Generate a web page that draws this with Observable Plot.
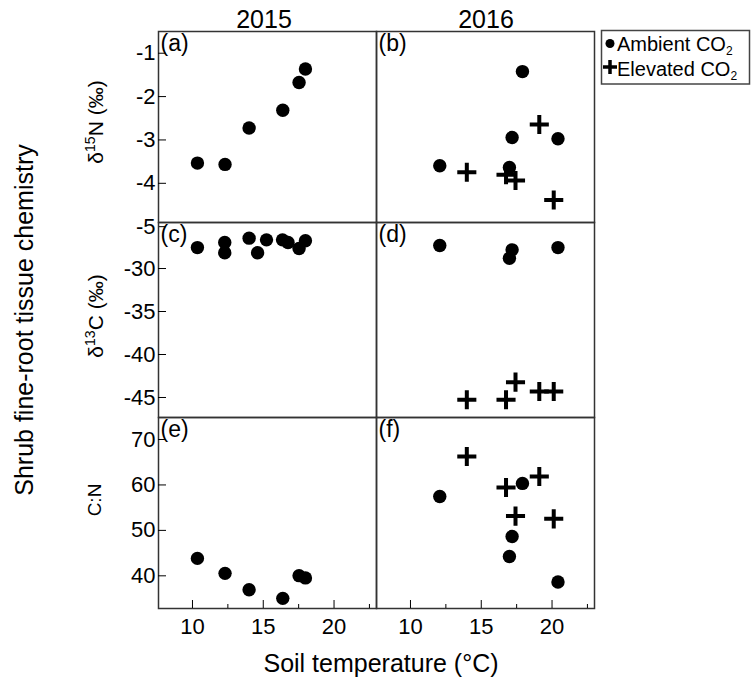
<!DOCTYPE html>
<html><head><meta charset="utf-8">
<script src="https://cdn.jsdelivr.net/npm/d3@7"></script>
<script src="https://cdn.jsdelivr.net/npm/@observablehq/plot@0.6"></script>
<style>
body{margin:0;background:#fff;}
#wrap{position:relative;width:751px;height:680px;overflow:hidden;background:#fff;font-family:"Liberation Sans",Arial,sans-serif;}
#wrap svg{position:absolute;left:0;}
</style></head><body><div id="wrap"></div>
<script>
// ---- data ----
const years = [2015, 2016];
const panelLabels = ["(a)", "(b)", "(c)", "(d)", "(e)", "(f)"];
const xTicks = [10, 15, 20];
const xMinorTicks = [12.5, 17.5, 22.5];
const d15NTicks = [-5, -4, -3, -2, -1];
const d13CTicks = [-45, -40, -35, -30];
const cnTicks = [40, 50, 60, 70];

// 2015 (ambient only)
const temp2015 = [10.35, 12.3, 14.0, 16.38, 17.53, 17.98];
const d15N2015 = [-3.58, -3.61, -2.77, -2.36, -1.72, -1.41];
const cn2015 = [43.4, 40.1, 36.5, 34.6, 39.6, 39.1];
const temp2015C = [10.35, 12.28, 12.28, 14.0, 14.6, 15.23, 16.36, 16.75, 17.53, 17.98];
const d13C2015 = [-27.8, -27.2, -28.4, -26.7, -28.4, -26.9, -26.9, -27.2, -27.9, -27.0];

// 2016 ambient CO2
const tempAmb2016 = [12.07, 16.99, 17.18, 17.91, 20.42];
const d15NAmb2016 = [-3.64, -3.68, -2.99, -1.47, -3.02];
const d13CAmb2016 = [-27.56, -29.03, -28.06, null, -27.8];
const cnAmb2016 = [57.0, 43.8, 48.2, 59.9, 38.2];

// 2016 elevated CO2
const tempElev2016 = [13.98, 16.75, 17.42, 19.1, 20.12];
const d15NElev2016 = [-3.79, -3.85, -3.98, -2.69, -4.43];
const d13CElev2016 = [-45.5, -45.5, -43.45, -44.53, -44.53];
const cnElev2016 = [65.8, 59.0, 52.7, 61.4, 52.1];

// ---- build records ----
function recs(year, co2, temps, vals) {
  return temps.map((t, i) => ({year, co2, t, v: vals[i]})).filter(d => d.v != null);
}
const rows = [
  {top: 30, plotH: 191, mb: 1, domain: [-4.95, -0.545], ticks: d15NTicks,
   data: [...recs(2015, "Ambient", temp2015, d15N2015), ...recs(2016, "Ambient", tempAmb2016, d15NAmb2016), ...recs(2016, "Elevated", tempElev2016, d15NElev2016)],
   labels: [panelLabels[0], panelLabels[1]]},
  {top: 221, plotH: 195, mb: 1, domain: [-47.56, -24.88], ticks: d13CTicks,
   data: [...recs(2015, "Ambient", temp2015C, d13C2015), ...recs(2016, "Ambient", tempAmb2016, d13CAmb2016), ...recs(2016, "Elevated", tempElev2016, d13CElev2016)],
   labels: [panelLabels[2], panelLabels[3]]},
  {top: 416, plotH: 191, mb: 72, domain: [32.37, 74.4], ticks: cnTicks, bottom: true,
   data: [...recs(2015, "Ambient", temp2015, cn2015), ...recs(2016, "Ambient", tempAmb2016, cnAmb2016), ...recs(2016, "Elevated", tempElev2016, cnElev2016)],
   labels: [panelLabels[4], panelLabels[5]]}
];

const wrap = document.getElementById("wrap");
for (const r of rows) {
  const labelData = years.map((y, i) => ({year: y, lab: r.labels[i]}));
  const marks = [
    Plot.frame({stroke: "#333", strokeWidth: 1.5}),
    Plot.axisY({ticks: r.ticks, tickSize: -8, tickPadding: 11, tickFormat: d => String(d), label: null, fontSize: 22, dy: 2}),
    Plot.dot(r.data.filter(d => d.co2 === "Ambient"), {x: "t", y: "v", fx: "year", r: 6.7, fill: "black", stroke: "none"}),
    Plot.dot(r.data.filter(d => d.co2 === "Elevated"), {x: "t", y: "v", fx: "year", r: 6.2, symbol: "plus", stroke: "black", strokeWidth: 4}),
    Plot.text(labelData, {fx: "year", text: "lab", frameAnchor: "top-left", lineAnchor: "top", dx: 2, dy: 3, fontSize: 23})
  ];
  if (r.bottom) {
    marks.push(Plot.axisX({ticks: xTicks, tickSize: -8, tickPadding: 18, label: null, fontSize: 22}));
    marks.push(Plot.axisX({ticks: xMinorTicks, tickSize: -4, tickFormat: () => "", label: null}));
  }
  const svg = Plot.plot({
    width: 751,
    height: 1 + r.plotH + r.mb,
    marginLeft: 158, marginRight: 157, marginTop: 1, marginBottom: r.mb,
    x: {domain: [7.6, 23.0], ...(r.bottom ? {} : {axis: null})},
    y: {domain: r.domain},
    fx: {domain: years, padding: 0, axis: null},
    style: {background: "transparent", overflow: "visible", fontFamily: "Liberation Sans, Arial, sans-serif", color: "black"},
    marks
  });
  svg.style.top = r.top + "px";
  wrap.appendChild(svg);
}

// ---- annotations ----
const ns = "http://www.w3.org/2000/svg";
const ov = document.createElementNS(ns, "svg");
ov.setAttribute("width", 751); ov.setAttribute("height", 680);
ov.style.top = "0px"; ov.style.pointerEvents = "none";
ov.innerHTML = `
<g font-family="Liberation Sans, Arial, sans-serif" fill="black">
  <text x="264" y="28" font-size="25" text-anchor="middle">${years[0]}</text>
  <text x="486" y="28" font-size="25" text-anchor="middle">${years[1]}</text>
  <text x="381" y="672" font-size="25" text-anchor="middle">Soil temperature (°C)</text>
  <text transform="translate(33,320) rotate(-90)" font-size="25" text-anchor="middle">Shrub fine-root tissue chemistry</text>
  <text transform="translate(103,122) rotate(-90)" font-size="21" text-anchor="middle">δ<tspan font-size="14" dy="-8">15</tspan><tspan dy="8">N (‰)</tspan></text>
  <text transform="translate(103,316) rotate(-90)" font-size="21" text-anchor="middle">δ<tspan font-size="14" dy="-8">13</tspan><tspan dy="8">C (‰)</tspan></text>
  <text transform="translate(101,500) rotate(-90)" font-size="19" text-anchor="middle">C:N</text>
  <rect x="601.5" y="30.5" width="148" height="53.5" fill="none" stroke="#444" stroke-width="1.5"/>
  <circle cx="610" cy="43.5" r="4.5" fill="black"/>
  <path d="M603,67H617M610,60V74" stroke="black" stroke-width="3.5" fill="none"/>
  <text x="617" y="51" font-size="20">Ambient CO<tspan font-size="12" dy="4">2</tspan></text>
  <text x="617" y="76" font-size="20">Elevated CO<tspan font-size="12" dy="4">2</tspan></text>
</g>`;
wrap.appendChild(ov);
</script></body></html>
